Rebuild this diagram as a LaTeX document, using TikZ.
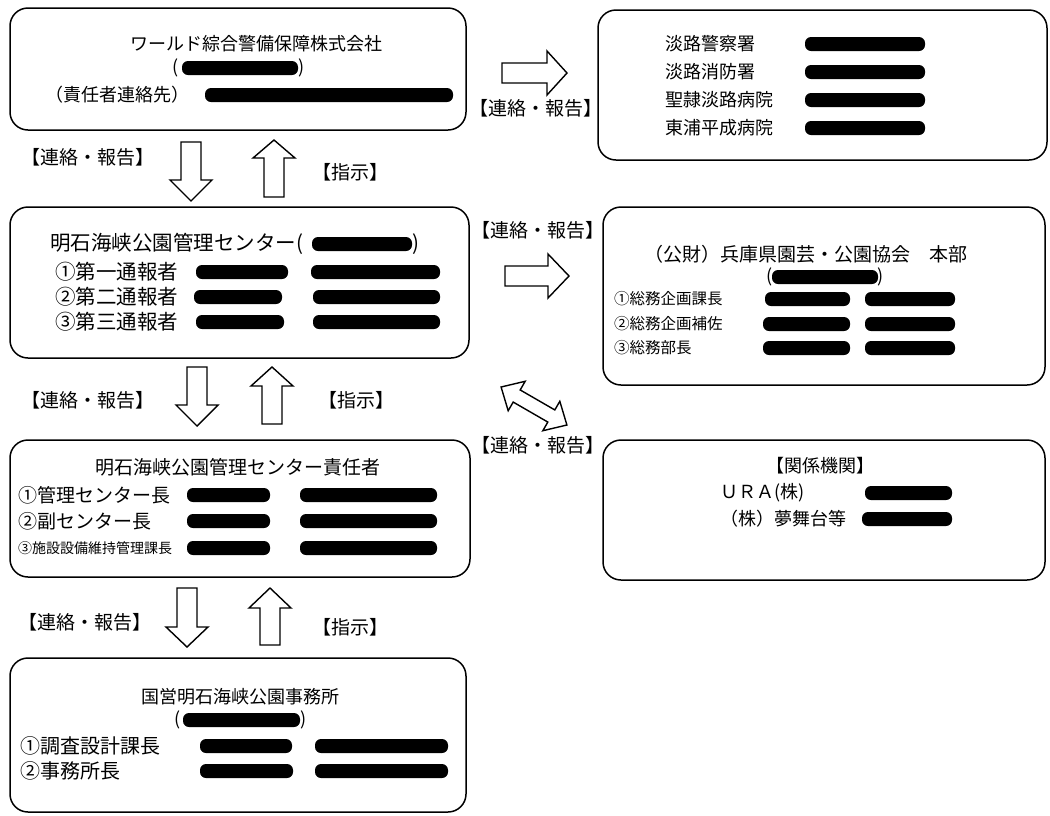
\documentclass[tikz,border=0pt]{standalone}
\usepackage{fontspec}
\setmainfont{Noto Sans CJK JP}
\newcommand\blot[3]{\fill[blotstyle] (#1,#3-7) rectangle (#2,#3+7);}
\newcommand\varr[4]{\draw[blk] (#1-10,#2) -- (#1+10,#2) -- (#1+10,#3) -- (#1+21,#3) -- (#1,#4) -- (#1-21,#3) -- (#1-10,#3) -- cycle;}
\newcommand\harr[4]{\draw[blk] (#2,#1-10) -- (#3,#1-10) -- (#3,#1-22) -- (#4,#1) -- (#3,#1+22) -- (#3,#1+10) -- (#2,#1+10) -- cycle;}
\begin{document}
\begin{tikzpicture}[x=1pt,y=-1pt,
 box/.style={draw, line width=1.5pt, rounded corners=18pt, inner sep=0},
 t/.style={inner sep=0, font=\fontsize{18}{20}\selectfont},
 tb/.style={inner sep=0, font=\fontsize{19}{21}\selectfont},
 tc/.style={inner sep=0, font=\fontsize{20.5}{22}\selectfont},
 tg/.style={inner sep=0, font=\fontsize{20}{22}\selectfont},
 ts/.style={inner sep=0, font=\fontsize{15.5}{18}\selectfont},
 tss/.style={inner sep=0, font=\fontsize{14}{16}\selectfont},
 blk/.style={draw, line width=1.4pt, fill=white, line join=miter},
 blotstyle/.style={fill=black, rounded corners=6pt}]
\useasboundingbox (0,0) rectangle (1050,815);

% boxes
\node[box, minimum width=456pt, minimum height=122pt] (A) at (238,69) {};
\node[box, minimum width=449pt, minimum height=150pt] (B) at (822.5,85) {};
\node[box, minimum width=459pt, minimum height=151pt] (C) at (239.5,282.5) {};
\node[box, minimum width=442pt, minimum height=178pt] (D) at (824,296) {};
\node[box, minimum width=460pt, minimum height=137pt] (E) at (240,508.5) {};
\node[box, minimum width=442pt, minimum height=140pt] (F) at (824,510) {};
\node[box, minimum width=456pt, minimum height=154pt] (G) at (238,735) {};

% box A
\node[t] (a1) at (256,44) {ワールド綜合警備保障株式会社};
\node[t, anchor=west] (a2) at (172,68) {(};
\blot{182}{298}{68}
\node[t, anchor=west] (a2b) at (298,68) {)};
\node[t, anchor=west] (a3) at (45,95) {（責任者連絡先）};
\blot{205}{453}{95}

% box B
\node[t, anchor=west] (b1) at (665,44) {淡路警察署};
\node[t, anchor=west] (b2) at (665,72) {淡路消防署};
\node[t, anchor=west] (b3) at (665,100) {聖隷淡路病院};
\node[t, anchor=west] (b4) at (665,128) {東浦平成病院};
\blot{805}{925}{44}
\blot{805}{925}{72}
\blot{805}{925}{100}
\blot{805}{925}{128}

% box C
\node[tc, anchor=west] (c1) at (50,244) {明石海峡公園管理センター(};
\blot{312}{412}{244}
\node[tc, anchor=west] (c1b) at (412,244) {)};
\node[tc, anchor=west] (c2) at (55,272) {①第一通報者};
\node[tc, anchor=west] (c3) at (55,297) {②第二通報者};
\node[tc, anchor=west] (c4) at (55,322) {③第三通報者};
\blot{196}{288}{272}
\blot{311}{440}{272}
\blot{194}{282}{297}
\blot{313}{440}{297}
\blot{196}{284}{322}
\blot{313}{440}{322}

% box D
\node[tb] (d1) at (806,254) {（公財）兵庫県園芸・公園協会　本部};
\node[t, anchor=east] (d2) at (773,277) {(};
\blot{772}{878}{277}
\node[t, anchor=west] (d2b) at (877,277) {)};
\node[ts, anchor=west] (d3) at (614,299) {①総務企画課長};
\node[ts, anchor=west] (d4) at (614,324) {②総務企画補佐};
\node[ts, anchor=west] (d5) at (614,348) {③総務部長};
\blot{765}{850}{299}
\blot{865}{955}{299}
\blot{763}{850}{324}
\blot{865}{955}{324}
\blot{763}{850}{348}
\blot{865}{955}{348}

% box E
\node[tb] (e1) at (238,467) {明石海峡公園管理センター責任者};
\node[tb, anchor=west] (e2) at (18,495) {①管理センター長};
\node[tb, anchor=west] (e3) at (18,521) {②副センター長};
\node[tss, anchor=west] (e4) at (18,548) {③施設設備維持管理課長};
\blot{187}{270}{495}
\blot{300}{437}{495}
\blot{187}{270}{521}
\blot{300}{437}{521}
\blot{187}{270}{548}
\blot{300}{437}{548}

% box F
\node[t] (f1) at (820,466) {【関係機関】};
\node[t, anchor=west] (f2) at (720,493) {ＵＲＡ(株)};
\node[t, anchor=west] (f3) at (720,519) {（株）夢舞台等};
\blot{865}{952}{493}
\blot{862}{952}{519}

% box G
\node[t] (g1) at (240,697) {国営明石海峡公園事務所};
\node[t, anchor=west] (g2) at (174,720) {(};
\blot{183}{300}{720}
\node[t, anchor=west] (g2b) at (300,720) {)};
\node[tg, anchor=west] (g3) at (20,746) {①調査設計課長};
\node[tg, anchor=west] (g4) at (20,771) {②事務所長};
\blot{200}{292}{746}
\blot{315}{448}{746}
\blot{200}{293}{771}
\blot{315}{448}{771}

% block arrows
\harr{73}{502}{547}{567}
\varr{191}{142}{180}{201}
\varr{274}{197}{158}{140}
\harr{276}{505}{548}{569}
\varr{197}{367}{405}{426}
\varr{272}{424}{386}{367}
\varr{187}{588}{627}{647}
\varr{270}{645}{608}{588}
\draw[blk, shift={(534,406)}, rotate=-30] (-38,0) -- (-20,-17) -- (-20,-7) -- (20,-7) -- (20,-17) -- (38,0) -- (20,17) -- (20,7) -- (-20,7) -- (-20,17) -- cycle;

% labels
\node[tb] (l1) at (536,108) {【連絡・報告】};
\node[tb] (l2) at (88,157) {【連絡・報告】};
\node[tb] (l3) at (350,172) {【指示】};
\node[tb] (l4) at (538,230) {【連絡・報告】};
\node[tb] (l5) at (88,400) {【連絡・報告】};
\node[tb] (l6) at (356,400) {【指示】};
\node[tb] (l7) at (538,445) {【連絡・報告】};
\node[tb] (l8) at (85,622) {【連絡・報告】};
\node[tb] (l9) at (350,627) {【指示】};
\end{tikzpicture}
\end{document}
